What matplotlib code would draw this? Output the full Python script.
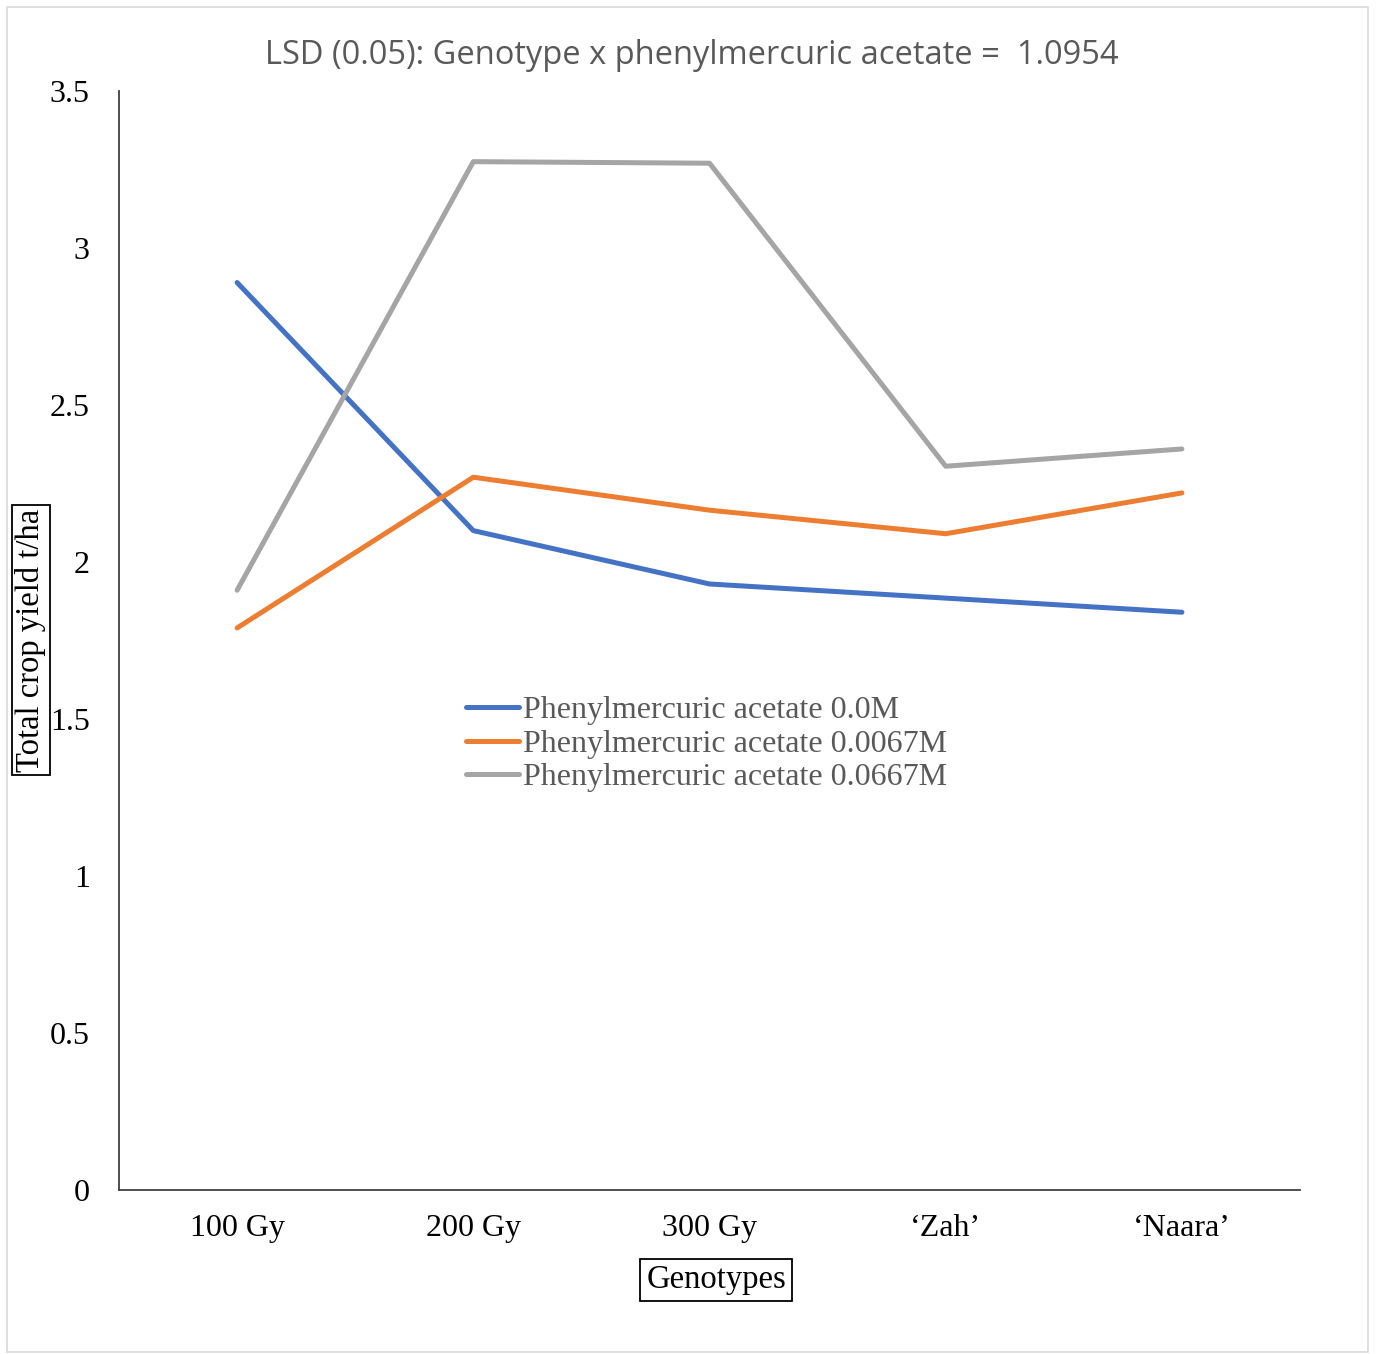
import matplotlib.pyplot as plt
from matplotlib.patches import Rectangle

genotypes = ['100 Gy', '200 Gy', '300 Gy', '\u2018Zah\u2019', '\u2018Naara\u2019']
pma_00 = [2.89, 2.10, 1.93, 1.885, 1.84]
pma_0067 = [1.79, 2.27, 2.165, 2.09, 2.22]
pma_0667 = [1.91, 3.275, 3.27, 2.305, 2.36]
labels = ['Phenylmercuric acetate 0.0M',
          'Phenylmercuric acetate 0.0067M',
          'Phenylmercuric acetate 0.0667M']
colors = ['#4472C4', '#ED7D31', '#A5A5A5']

W, H = 1376, 1354
fig = plt.figure(figsize=(W / 100, H / 100), dpi=100)
ax = fig.add_axes([119 / W, 1 - 1190 / H, (1300 - 119) / W, (1190 - 91) / H])

x = range(len(genotypes))
for vals, lab, c in zip([pma_00, pma_0067, pma_0667], labels, colors):
    ax.plot(x, vals, color=c, lw=3.6, label=lab, solid_capstyle='round')

ax.set_xlim(-0.5, len(genotypes) - 0.5)
ax.set_ylim(0, 3.5)
ax.set_yticks([0, 0.5, 1, 1.5, 2, 2.5, 3, 3.5])
ax.set_yticklabels(['0', '0.5', '1', '1.5', '2', '2.5', '3', '3.5'])
ax.set_xticks(list(x))
ax.set_xticklabels(genotypes)
ax.tick_params(axis='y', length=0, pad=21, labelsize=23)
ax.tick_params(axis='x', length=0, pad=17, labelsize=23)
for t in ax.get_xticklabels() + ax.get_yticklabels():
    t.set_fontfamily('Liberation Serif')
for s in ['top', 'right']:
    ax.spines[s].set_visible(False)
for s in ['left', 'bottom']:
    ax.spines[s].set_color('#404040')
    ax.spines[s].set_linewidth(1.3)

leg = ax.legend(loc='upper left', bbox_to_anchor=(466 / W, 1 - 696 / H),
                bbox_transform=fig.transFigure, frameon=False,
                prop={'family': 'Liberation Serif', 'size': 23},
                handlelength=1.65, handletextpad=0.12, labelspacing=0.13,
                borderpad=0, borderaxespad=0)
for t in leg.get_texts():
    t.set_color('#595959')

fig.text(692 / W, 1 - 55 / H,
         'LSD (0.05): Genotype x phenylmercuric acetate =  1.0954',
         ha='center', va='center', fontsize=23.5, color='#595959',
         family='Open Sans')

fig.text(31 / W, 1 - 640 / H, 'Total crop yield t/ha', rotation=90,
         ha='center', va='center', fontsize=23.5, family='Liberation Serif',
         bbox=dict(boxstyle='square,pad=0.12', fc='white', ec='black', lw=1.3))
fig.text(716 / W, 1 - 1280 / H, 'Genotypes',
         ha='center', va='center', fontsize=23.5, family='Liberation Serif',
         bbox=dict(boxstyle='square,pad=0.18', fc='white', ec='black', lw=1.3))

fig.patches.append(Rectangle((7 / W, 1 - 1352 / H), (1368 - 7) / W, (1352 - 7) / H,
                             transform=fig.transFigure, fill=False,
                             ec='#D9D9D9', lw=1.2))

fig.savefig('out.png', dpi=100, facecolor='white')
